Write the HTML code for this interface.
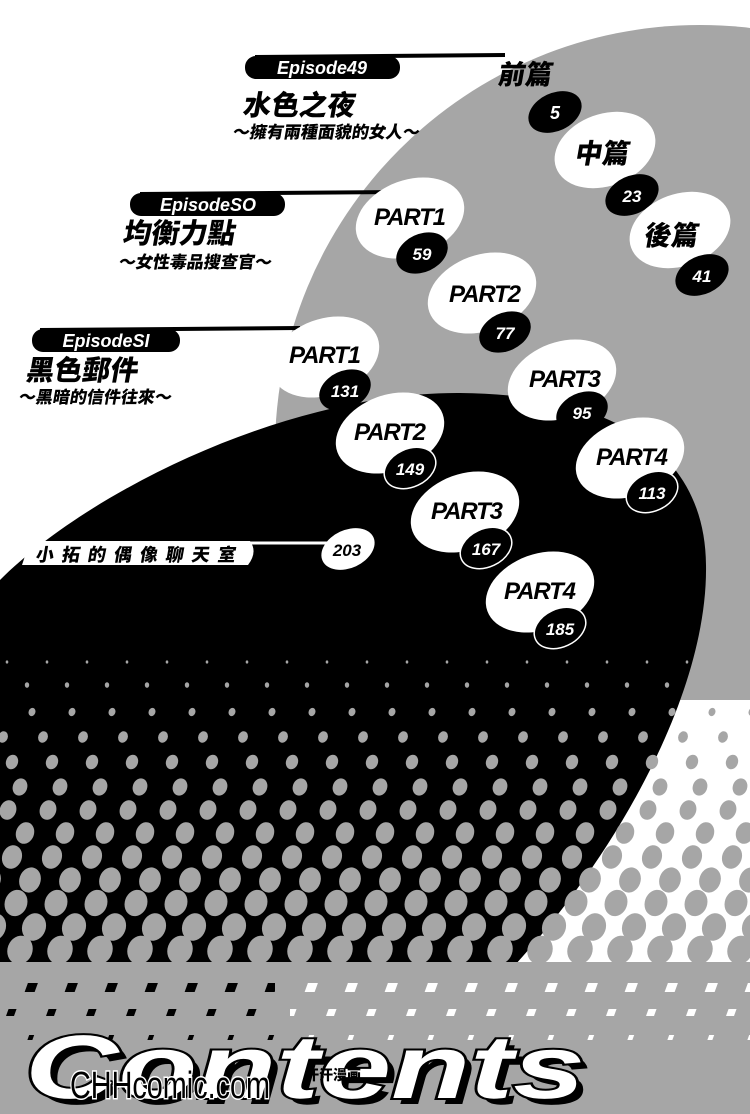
<!DOCTYPE html>
<html><head><meta charset="utf-8"><style>
html,body{margin:0;padding:0;background:#fff;}
svg{display:block;}
.cj{font-family:"Liberation Sans","Noto Sans CJK TC","Noto Sans CJK SC",sans-serif;font-weight:900;}
.lt{font-family:"Liberation Sans",sans-serif;font-weight:bold;font-style:italic;}
</style></head><body>
<svg width="750" height="1114" viewBox="0 0 750 1114" xmlns="http://www.w3.org/2000/svg">
<defs>
<clipPath id="topc"><rect x="0" y="0" width="750" height="700"/></clipPath>
<pattern id="p0" patternUnits="userSpaceOnUse" x="-13" y="647" width="40" height="30"><ellipse cx="20" cy="15" rx="1.3" ry="1.6" fill="#a6a6a6"/></pattern>
<pattern id="p1" patternUnits="userSpaceOnUse" x="7" y="670" width="40" height="30"><ellipse cx="20" cy="15" rx="2.2" ry="2.8" fill="#a6a6a6"/></pattern>
<pattern id="p2" patternUnits="userSpaceOnUse" x="12" y="697" width="40" height="30"><ellipse cx="20" cy="15" rx="3.4" ry="4.2" fill="#a6a6a6" transform="rotate(20 20 15)"/></pattern>
<pattern id="p3" patternUnits="userSpaceOnUse" x="-17" y="722" width="40" height="30"><ellipse cx="20" cy="15" rx="4.8" ry="5.8" fill="#a6a6a6" transform="rotate(20 20 15)"/></pattern>
<pattern id="p4" patternUnits="userSpaceOnUse" x="-8" y="747" width="40" height="30"><ellipse cx="20" cy="15" rx="6" ry="7.4" fill="#a6a6a6" transform="rotate(20 20 15)"/></pattern>
<pattern id="p5" patternUnits="userSpaceOnUse" x="0" y="772" width="40" height="30"><ellipse cx="20" cy="15" rx="7.2" ry="8.8" fill="#a6a6a6" transform="rotate(20 20 15)"/></pattern>
<pattern id="p6" patternUnits="userSpaceOnUse" x="-12" y="795" width="40" height="30"><ellipse cx="20" cy="15" rx="8.2" ry="10" fill="#a6a6a6" transform="rotate(20 20 15)"/></pattern>
<pattern id="p7" patternUnits="userSpaceOnUse" x="5" y="818" width="40" height="30"><ellipse cx="20" cy="15" rx="9" ry="11" fill="#a6a6a6" transform="rotate(20 20 15)"/></pattern>
<pattern id="p8" patternUnits="userSpaceOnUse" x="-8" y="842" width="40" height="30"><ellipse cx="20" cy="15" rx="9.8" ry="12" fill="#a6a6a6" transform="rotate(20 20 15)"/></pattern>
<pattern id="p9" patternUnits="userSpaceOnUse" x="10" y="865" width="40" height="30"><ellipse cx="20" cy="15" rx="10.6" ry="12.8" fill="#a6a6a6" transform="rotate(20 20 15)"/></pattern>
<pattern id="p10" patternUnits="userSpaceOnUse" x="-4" y="888" width="40" height="30"><ellipse cx="20" cy="15" rx="11.2" ry="13.4" fill="#a6a6a6" transform="rotate(20 20 15)"/></pattern>
<pattern id="p11" patternUnits="userSpaceOnUse" x="14" y="912" width="40" height="30"><ellipse cx="20" cy="15" rx="11.8" ry="14" fill="#a6a6a6" transform="rotate(20 20 15)"/></pattern>
<pattern id="p12" patternUnits="userSpaceOnUse" x="0" y="935" width="40" height="30"><ellipse cx="20" cy="15" rx="12.5" ry="14.5" fill="#a6a6a6" transform="rotate(20 20 15)"/></pattern>
<pattern id="s1" patternUnits="userSpaceOnUse" x="10" y="980" width="40" height="16"><rect x="15" y="3" width="10" height="9" transform="skewX(-20) translate(4 0)"/></pattern>
<pattern id="s2" patternUnits="userSpaceOnUse" x="30" y="1005" width="40" height="16"><rect x="16" y="4" width="8" height="7" transform="skewX(-20) translate(4 0)"/></pattern>
<pattern id="s3" patternUnits="userSpaceOnUse" x="10" y="1030" width="40" height="16"><rect x="17" y="5" width="5" height="5" transform="skewX(-20) translate(4 0)"/></pattern>
<pattern id="w1" patternUnits="userSpaceOnUse" x="10" y="980" width="40" height="16"><rect x="15" y="3" width="10" height="9" fill="#fff" transform="skewX(-20) translate(4 0)"/></pattern>
<pattern id="w2" patternUnits="userSpaceOnUse" x="30" y="1005" width="40" height="16"><rect x="16" y="4" width="8" height="7" fill="#fff" transform="skewX(-20) translate(4 0)"/></pattern>
<pattern id="w3" patternUnits="userSpaceOnUse" x="10" y="1030" width="40" height="16"><rect x="17" y="5" width="5" height="5" fill="#fff" transform="skewX(-20) translate(4 0)"/></pattern>
</defs>
<rect width="750" height="1114" fill="#fff"/>
<circle cx="700" cy="450" r="425" fill="#a6a6a6" clip-path="url(#topc)"/>
<path d="M0,580 C90,490 290,392 460,393 C610,394 705,450 706,565 C708,690 620,850 515,965 L0,965 Z" fill="#000"/>
<rect x="0" y="962" width="750" height="152" fill="#a6a6a6"/>
<rect x="0" y="647" width="750" height="30" fill="url(#p0)"/>
<rect x="0" y="670" width="750" height="30" fill="url(#p1)"/>
<rect x="0" y="697" width="750" height="30" fill="url(#p2)"/>
<rect x="0" y="722" width="750" height="30" fill="url(#p3)"/>
<rect x="0" y="747" width="750" height="30" fill="url(#p4)"/>
<rect x="0" y="772" width="750" height="30" fill="url(#p5)"/>
<rect x="0" y="795" width="750" height="30" fill="url(#p6)"/>
<rect x="0" y="818" width="750" height="30" fill="url(#p7)"/>
<rect x="0" y="842" width="750" height="30" fill="url(#p8)"/>
<rect x="0" y="865" width="750" height="30" fill="url(#p9)"/>
<rect x="0" y="888" width="750" height="30" fill="url(#p10)"/>
<rect x="0" y="912" width="750" height="30" fill="url(#p11)"/>
<rect x="0" y="935" width="750" height="30" fill="url(#p12)"/>
<rect x="0" y="980" width="275" height="16" fill="url(#s1)"/>
<rect x="0" y="1005" width="275" height="16" fill="url(#s2)"/>
<rect x="0" y="1030" width="275" height="16" fill="url(#s3)"/>
<rect x="290" y="980" width="460" height="16" fill="url(#w1)"/>
<rect x="290" y="1005" width="460" height="16" fill="url(#w2)"/>
<rect x="290" y="1030" width="460" height="16" fill="url(#w3)"/>

<line x1="255" y1="57" x2="505" y2="55" stroke="#000" stroke-width="4"/>
<rect x="245" y="56" width="155" height="23" rx="11" fill="#000"/>
<text x="322" y="74" text-anchor="middle" class="lt" font-size="18" fill="#fff">Episode49</text>
<text class="cj" font-size="28" transform="translate(242 115) skewX(-10)">水色之夜</text>
<text class="cj" font-size="17" transform="translate(232 138) skewX(-10)">～擁有兩種面貌的女人～</text>

<line x1="140" y1="194" x2="395" y2="192" stroke="#000" stroke-width="4"/>
<rect x="130" y="193" width="155" height="23" rx="11" fill="#000"/>
<text x="208" y="211" text-anchor="middle" class="lt" font-size="18" fill="#fff">EpisodeSO</text>
<text class="cj" font-size="28" transform="translate(122 243) skewX(-10)">均衡力點</text>
<text class="cj" font-size="17" transform="translate(118 268) skewX(-10)">～女性毒品搜查官～</text>

<line x1="40" y1="330" x2="300" y2="328" stroke="#000" stroke-width="4"/>
<rect x="32" y="329" width="148" height="23" rx="11" fill="#000"/>
<text x="106" y="347" text-anchor="middle" class="lt" font-size="18" fill="#fff">EpisodeSI</text>
<text class="cj" font-size="28" transform="translate(25 380) skewX(-10)">黑色郵件</text>
<text class="cj" font-size="17" transform="translate(18 403) skewX(-10)">～黑暗的信件往來～</text>

<text class="cj" font-size="27" transform="translate(497 84) skewX(-10)">前篇</text>
<ellipse cx="555" cy="112" rx="28" ry="19" fill="#000" transform="rotate(-25 555 112)"/>
<text x="555" y="119" text-anchor="middle" class="lt" font-size="18" fill="#fff">5</text>

<ellipse cx="605" cy="150" rx="52" ry="36" fill="#fff" transform="rotate(-20 605 150)"/>
<text class="cj" font-size="27" transform="translate(574 163) skewX(-10)">中篇</text>
<ellipse cx="632" cy="195" rx="28" ry="19" fill="#000" transform="rotate(-25 632 195)"/>
<text x="632" y="202" text-anchor="middle" class="lt" font-size="17" fill="#fff">23</text>

<ellipse cx="680" cy="230" rx="52" ry="36" fill="#fff" transform="rotate(-20 680 230)"/>
<text class="cj" font-size="27" transform="translate(643 245) skewX(-10)">後篇</text>
<ellipse cx="702" cy="275" rx="28" ry="19" fill="#000" transform="rotate(-25 702 275)"/>
<text x="702" y="282" text-anchor="middle" class="lt" font-size="17" fill="#fff">41</text>

<ellipse cx="410" cy="218" rx="56" ry="38" fill="#fff" transform="rotate(-20 410 218)"/>
<text x="410" y="225" text-anchor="middle" class="lt" font-size="24" textLength="72">PART1</text>
<ellipse cx="422" cy="253" rx="27" ry="19" fill="#000" transform="rotate(-25 422 253)"/>
<text x="422" y="260" text-anchor="middle" class="lt" font-size="17" fill="#fff">59</text>

<ellipse cx="482" cy="293" rx="56" ry="38" fill="#fff" transform="rotate(-20 482 293)"/>
<text x="485" y="302" text-anchor="middle" class="lt" font-size="24" textLength="72">PART2</text>
<ellipse cx="505" cy="332" rx="27" ry="19" fill="#000" transform="rotate(-25 505 332)"/>
<text x="505" y="339" text-anchor="middle" class="lt" font-size="17" fill="#fff">77</text>

<ellipse cx="325" cy="357" rx="56" ry="38" fill="#fff" transform="rotate(-20 325 357)"/>
<text x="325" y="363" text-anchor="middle" class="lt" font-size="24" textLength="72">PART1</text>
<ellipse cx="345" cy="390" rx="27" ry="19" fill="#000" transform="rotate(-25 345 390)"/>
<text x="345" y="397" text-anchor="middle" class="lt" font-size="17" fill="#fff">131</text>

<ellipse cx="562" cy="380" rx="56" ry="38" fill="#fff" transform="rotate(-20 562 380)"/>
<text x="565" y="387" text-anchor="middle" class="lt" font-size="24" textLength="72">PART3</text>
<ellipse cx="582" cy="412" rx="27" ry="19" fill="#000" transform="rotate(-25 582 412)"/>
<text x="582" y="419" text-anchor="middle" class="lt" font-size="17" fill="#fff">95</text>

<ellipse cx="390" cy="433" rx="56" ry="38" fill="#fff" transform="rotate(-20 390 433)"/>
<text x="390" y="440" text-anchor="middle" class="lt" font-size="24" textLength="72">PART2</text>
<ellipse cx="410" cy="468" rx="27" ry="19" fill="#000" stroke="#fff" stroke-width="1.5" transform="rotate(-25 410 468)"/>
<text x="410" y="475" text-anchor="middle" class="lt" font-size="17" fill="#fff">149</text>

<ellipse cx="630" cy="458" rx="56" ry="38" fill="#fff" transform="rotate(-20 630 458)"/>
<text x="632" y="465" text-anchor="middle" class="lt" font-size="24" textLength="72">PART4</text>
<ellipse cx="652" cy="492" rx="27" ry="19" fill="#000" stroke="#fff" stroke-width="1.5" transform="rotate(-25 652 492)"/>
<text x="652" y="499" text-anchor="middle" class="lt" font-size="17" fill="#fff">113</text>

<ellipse cx="465" cy="512" rx="56" ry="38" fill="#fff" transform="rotate(-20 465 512)"/>
<text x="467" y="519" text-anchor="middle" class="lt" font-size="24" textLength="72">PART3</text>
<ellipse cx="486" cy="548" rx="27" ry="19" fill="#000" stroke="#fff" stroke-width="1.5" transform="rotate(-25 486 548)"/>
<text x="486" y="555" text-anchor="middle" class="lt" font-size="17" fill="#fff">167</text>

<ellipse cx="540" cy="592" rx="56" ry="38" fill="#fff" transform="rotate(-20 540 592)"/>
<text x="540" y="599" text-anchor="middle" class="lt" font-size="24" textLength="72">PART4</text>
<ellipse cx="560" cy="628" rx="27" ry="19" fill="#000" stroke="#fff" stroke-width="1.5" transform="rotate(-25 560 628)"/>
<text x="560" y="635" text-anchor="middle" class="lt" font-size="17" fill="#fff">185</text>

<line x1="240" y1="543" x2="335" y2="543" stroke="#fff" stroke-width="3"/>
<path d="M30,541 L250,541 Q258,552 248,565 L22,565 Z" fill="#fff"/>
<text class="cj" font-size="18" letter-spacing="8" transform="translate(35 561) skewX(-10)">小拓的偶像聊天室</text>
<ellipse cx="348" cy="549" rx="28" ry="19" fill="#fff" transform="rotate(-25 348 549)"/>
<text x="347" y="556" text-anchor="middle" class="lt" font-size="17">203</text>

<text x="32" y="1104" class="lt" font-size="90" font-weight="900" fill="#000" textLength="560" lengthAdjust="spacingAndGlyphs">Contents</text>
<text x="25" y="1098" class="lt" font-size="90" font-weight="900" fill="#fff" stroke="#000" stroke-width="4" paint-order="stroke" textLength="560" lengthAdjust="spacingAndGlyphs">Contents</text>
<text x="70" y="1098" font-family="Liberation Sans Narrow, Liberation Sans, sans-serif" font-size="38" fill="#000" stroke="#fff" stroke-width="3" paint-order="stroke" textLength="200" lengthAdjust="spacingAndGlyphs">CHHcomic.com</text>
<text x="305" y="1080" class="cj" font-size="14" font-weight="normal">汗汗漫画</text>
</svg>
</body></html>
